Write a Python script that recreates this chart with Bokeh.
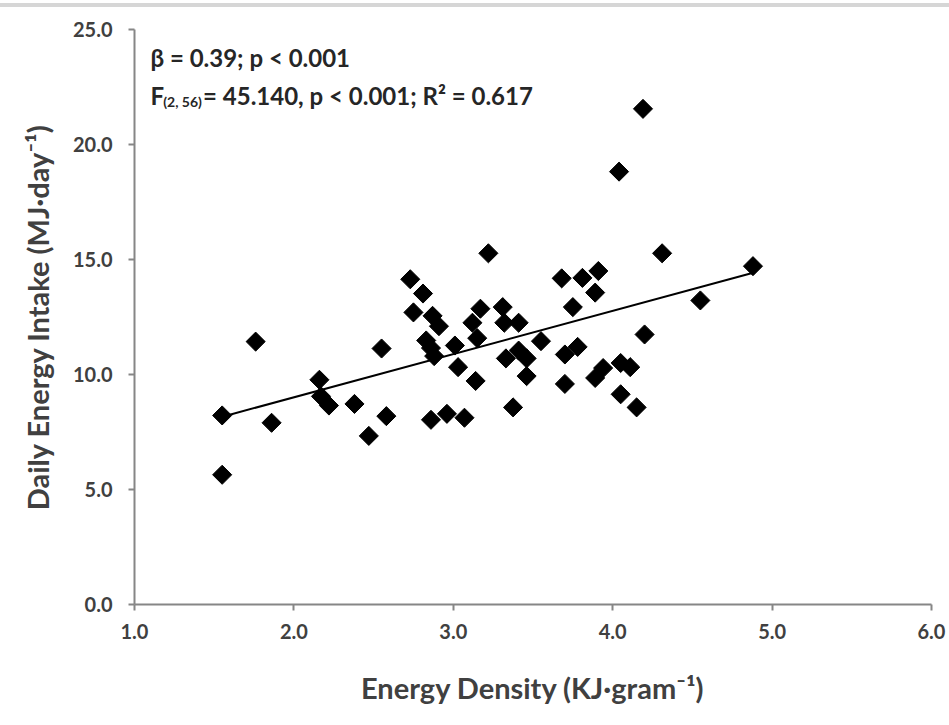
from bokeh.plotting import figure
from bokeh.models import Range1d, FixedTicker, Label
from bokeh.embed import file_html
from bokeh.resources import INLINE

# Energy density (KJ/gram) and daily energy intake (MJ/day)
energy_density = [1.55, 1.55, 1.76, 1.86, 2.16, 2.17, 2.22, 2.38, 2.47, 2.55,
                  2.58, 2.73, 2.81, 2.75, 2.87, 2.91, 2.83, 2.86, 2.88, 2.86,
                  2.96, 3.07, 3.01, 3.03, 3.14, 3.12, 3.17, 3.15, 3.22, 3.31,
                  3.32, 3.41, 3.33, 3.41, 3.46, 3.46, 3.375, 3.55, 3.68, 3.81,
                  3.91, 3.89, 3.75, 3.70, 3.78, 3.70, 3.89, 3.94, 4.05, 4.11,
                  4.05, 4.15, 4.20, 4.04, 4.19, 4.31, 4.55, 4.88]
energy_intake = [5.64, 8.22, 11.43, 7.90, 9.77, 9.05, 8.65, 8.72, 7.33, 11.13,
                 8.19, 14.14, 13.52, 12.70, 12.55, 12.10, 11.48, 11.15, 10.80, 8.03,
                 8.29, 8.12, 11.26, 10.32, 9.72, 12.25, 12.86, 11.58, 15.27, 12.93,
                 12.25, 12.25, 10.70, 11.04, 10.70, 9.93, 8.57, 11.45, 14.18, 14.20,
                 14.50, 13.56, 12.93, 10.87, 11.20, 9.59, 9.85, 10.28, 10.50, 10.32,
                 9.14, 8.57, 11.74, 18.82, 21.55, 15.27, 13.22, 14.71]

# Regression line end points
trend_x = [1.58, 4.87]
trend_y = [8.22, 14.40]

x_ticks = [1, 2, 3, 4, 5, 6]
y_ticks = [0, 5, 10, 15, 20, 25]
x_tick_labels = ["1.0", "2.0", "3.0", "4.0", "5.0", "6.0"]
y_tick_labels = ["0.0", "5.0", "10.0", "15.0", "20.0", "25.0"]

FONT = "Lato"
AXIS_GRAY = "#868686"
TEXT = "#404040"

p = figure(width=949, height=725, output_backend="svg", toolbar_location=None,
           x_range=Range1d(1, 6), y_range=Range1d(0, 25),
           min_border_left=134, min_border_right=18, min_border_top=22,
           min_border_bottom=128)
p.outline_line_color = None
p.grid.visible = False
p.background_fill_color = "white"
p.border_fill_color = "white"

p.xaxis.ticker = FixedTicker(ticks=x_ticks)
p.yaxis.ticker = FixedTicker(ticks=y_ticks)
p.xaxis.major_label_overrides = {t: l for t, l in zip(x_ticks, x_tick_labels)}
p.yaxis.major_label_overrides = {t: l for t, l in zip(y_ticks, y_tick_labels)}

for ax in (p.xaxis, p.yaxis):
    ax.axis_line_color = AXIS_GRAY
    ax.axis_line_width = 2
    ax.major_tick_line_color = AXIS_GRAY
    ax.major_tick_line_width = 2
    ax.major_tick_out = 6
    ax.major_tick_in = 0
    ax.minor_tick_line_color = None
    ax.major_label_text_font = FONT
    ax.major_label_text_font_style = "bold"
    ax.major_label_text_font_size = "20px"
    ax.major_label_text_color = TEXT
    ax.axis_label_text_font = FONT
    ax.axis_label_text_font_style = "bold"
    ax.axis_label_text_font_size = "29px"
    ax.axis_label_text_color = TEXT

p.xaxis.axis_label = "Energy Density (KJ\u00b7gram\u207b\u00b9)"
p.yaxis.axis_label = "Daily Energy Intake (MJ\u00b7day\u207b\u00b9)"
p.xaxis.major_label_standoff = 13
p.yaxis.major_label_standoff = 16
p.xaxis.axis_label_standoff = 28
p.yaxis.axis_label_standoff = 15

p.line(trend_x, trend_y, line_color="black", line_width=2)
p.scatter(energy_density, energy_intake, marker="square", size=13.5, angle=0.785398,
          fill_color="black", line_color="black")

ANN = "#262626"
p.add_layout(Label(x=1.1, y=23.8, text="\u03b2 = 0.39; p < 0.001", text_font=FONT,
                   text_font_style="bold", text_font_size="24px", text_color=ANN,
                   text_baseline="middle"))
p.add_layout(Label(x=1.1, y=22.13, text="F", text_font=FONT,
                   text_font_style="bold", text_font_size="24px", text_color=ANN,
                   text_baseline="middle"))
p.add_layout(Label(x=1.18, y=21.85, text="(2, 56)", text_font=FONT,
                   text_font_style="bold", text_font_size="14px", text_color=ANN,
                   text_baseline="middle"))
p.add_layout(Label(x=1.43, y=22.13, text="= 45.140, p < 0.001; R\u00b2 = 0.617",
                   text_font=FONT, text_font_style="bold", text_font_size="24px",
                   text_color=ANN, text_baseline="middle"))

p.styles = {"border-top": "4px solid #d6d6d6", "margin-top": "3px"}

open("out.html", "w").write(file_html(p, INLINE))
